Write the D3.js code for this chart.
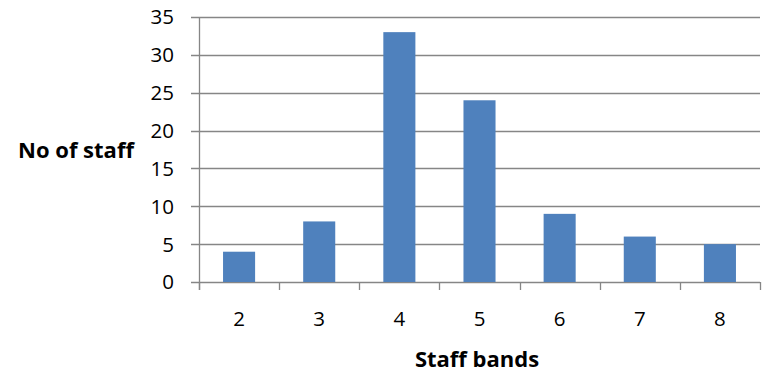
<!DOCTYPE html>
<html>
<head>
<meta charset="utf-8">
<script src="https://cdn.jsdelivr.net/npm/d3@7"></script>
<style>
  html, body { margin: 0; padding: 0; background: #fff; }
  svg { display: block; font-family: "Open Sans", "Liberation Sans", Arial, sans-serif; }
</style>
</head>
<body>
<svg id="chart" width="763" height="369"></svg>
<script>
// Staff count per band
const bands = ["2", "3", "4", "5", "6", "7", "8"];
const staffCounts = [4, 8, 33, 24, 9, 6, 5];
const yTicks = [0, 5, 10, 15, 20, 25, 30, 35];

const svg = d3.select("#chart");
const plot = { left: 199, right: 760, top: 17, bottom: 282 };
const gridColor = "#868686";
const barColor = "#4F81BD";

const x = d3.scaleBand()
  .domain(bands)
  .range([plot.left, plot.right])
  .paddingInner(0.6)
  .paddingOuter(0.3);

const y = d3.scaleLinear()
  .domain([0, 35])
  .range([plot.bottom, plot.top]);

// horizontal gridlines with left tick marks
svg.append("g")
  .selectAll("line")
  .data(yTicks)
  .join("line")
  .attr("x1", plot.left - 8)
  .attr("x2", plot.right)
  .attr("y1", d => Math.round(y(d)) + 0.5)
  .attr("y2", d => Math.round(y(d)) + 0.5)
  .attr("stroke", gridColor)
  .attr("stroke-width", 1.3);

// bars
svg.append("g")
  .selectAll("rect")
  .data(bands)
  .join("rect")
  .attr("x", d => x(d))
  .attr("width", x.bandwidth())
  .attr("y", (d, i) => y(staffCounts[i]))
  .attr("height", (d, i) => y(0) - y(staffCounts[i]))
  .attr("fill", barColor);

// y axis line
svg.append("line")
  .attr("x1", plot.left + 0.5).attr("x2", plot.left + 0.5)
  .attr("y1", plot.top).attr("y2", plot.bottom + 8)
  .attr("stroke", gridColor).attr("stroke-width", 1.3);

// x axis tick marks at band boundaries
const step = x.step();
const boundaries = d3.range(bands.length + 1).map(i => plot.left + i * step);
svg.append("g")
  .selectAll("line")
  .data(boundaries)
  .join("line")
  .attr("x1", d => Math.round(d) + 0.5)
  .attr("x2", d => Math.round(d) + 0.5)
  .attr("y1", plot.bottom)
  .attr("y2", plot.bottom + 8)
  .attr("stroke", gridColor)
  .attr("stroke-width", 1.3);

// y tick labels
svg.append("g")
  .selectAll("text")
  .data(yTicks)
  .join("text")
  .attr("x", 174)
  .attr("y", d => y(d))
  .attr("dy", "0.36em")
  .attr("text-anchor", "end")
  .attr("font-size", 20.5)
  .attr("fill", "#000")
  .text(d => d);

// x tick labels
svg.append("g")
  .selectAll("text")
  .data(bands)
  .join("text")
  .attr("x", d => x(d) + x.bandwidth() / 2)
  .attr("y", 325.5)
  .attr("text-anchor", "middle")
  .attr("font-size", 20.5)
  .attr("fill", "#000")
  .text(d => d);

// axis titles
svg.append("text")
  .attr("x", 477)
  .attr("y", 366.5)
  .attr("text-anchor", "middle")
  .attr("font-size", 22)
  .attr("font-weight", "bold")
  .attr("fill", "#000")
  .text("Staff bands");

svg.append("text")
  .attr("x", 76)
  .attr("y", 158)
  .attr("text-anchor", "middle")
  .attr("font-size", 22)
  .attr("font-weight", "bold")
  .attr("fill", "#000")
  .text("No of staff");
</script>
</body>
</html>
